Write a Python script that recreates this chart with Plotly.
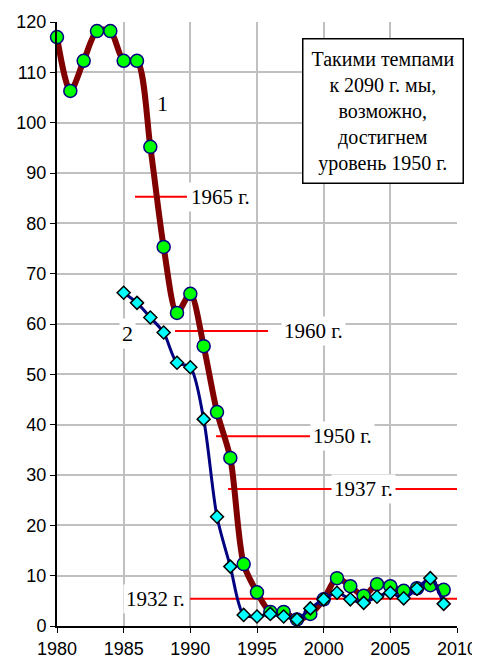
import plotly.graph_objects as go

# Series 1 (1980-2009)
years1 = list(range(1980, 2010))
vals1 = [117.0, 106.3, 112.3, 118.2, 118.2, 112.3, 112.3, 95.2, 75.3, 62.2,
         66.0, 55.6, 42.5, 33.4, 12.3, 6.7, 2.8, 2.8, 1.3, 2.4,
         5.3, 9.5, 7.9, 6.0, 8.3, 7.9, 7.0, 7.5, 8.1, 7.2]

# Series 2 (1985-2009)
years2 = list(range(1985, 2010))
vals2 = [66.2, 64.2, 61.3, 58.3, 52.3, 51.4, 41.1, 21.7, 11.8, 2.2,
         1.9, 2.4, 1.9, 1.3, 3.5, 5.3, 6.6, 5.3, 4.6, 5.8,
         6.6, 5.5, 7.4, 9.5, 4.4]

# Reference levels (red lines)
ref_labels = ["1965 г.", "1960 г.", "1950 г.", "1937 г.", "1932 г."]
ref_values = [85.3, 58.6, 37.7, 27.2, 5.4]
ref_x0 = [1985.85, 1988.85, 1991.93, 1992.83, 1989.98]
ref_x1 = [1989.75, 1995.83, 1998.98, 2010.0, 2010.0]
ref_label_x = [1989.8, 1996.8, 1999.0, 2002.95, 1989.8]
ref_label_anchor = ["left", "left", "left", "center", "right"]

x_ticks = [1980, 1985, 1990, 1995, 2000, 2005, 2010]
y_ticks = list(range(0, 121, 10))

serif = "Liberation Serif, Times New Roman, serif"
sans = "Liberation Sans, Arial, sans-serif"

fig = go.Figure()

for i in range(len(ref_values)):
    fig.add_trace(go.Scatter(
        x=[ref_x0[i], ref_x1[i]], y=[ref_values[i], ref_values[i]],
        mode="lines", line=dict(color="#ff0000", width=2),
        showlegend=False, hoverinfo="skip"))

fig.add_trace(go.Scatter(
    x=years1, y=vals1, mode="lines+markers",
    line=dict(color="#800000", width=6, shape="spline", smoothing=0.8),
    marker=dict(symbol="circle", size=13, color="#00ff00",
                line=dict(color="#000080", width=1.5)),
    cliponaxis=False, showlegend=False))

fig.add_trace(go.Scatter(
    x=years2, y=vals2, mode="lines+markers",
    line=dict(color="#000080", width=3, shape="spline", smoothing=0.8),
    marker=dict(symbol="diamond", size=10, color="#00ffff",
                line=dict(color="#000000", width=1.5)),
    cliponaxis=False, showlegend=False))

annotations = []
for i in range(len(ref_values)):
    annotations.append(dict(
        x=ref_label_x[i], y=ref_values[i], xref="x", yref="y",
        text=ref_labels[i], showarrow=False, xanchor=ref_label_anchor[i],
        yanchor="middle", bgcolor="white", borderpad=2,
        font=dict(family=serif, size=21, color="black")))

annotations.append(dict(x=1987.9, y=103.9, xref="x", yref="y", text="1",
                        showarrow=False, bgcolor="white", borderpad=2,
                        font=dict(family=serif, size=22, color="black")))
annotations.append(dict(x=1985.3, y=58.2, xref="x", yref="y", text="2",
                        showarrow=False, bgcolor="white", borderpad=2,
                        font=dict(family=serif, size=22, color="black")))

annotations.append(dict(
    x=0.814, y=0.852, xref="paper", yref="paper",
    text="Такими темпами<br>к 2090 г. мы,<br>возможно,<br>достигнем<br>уровень 1950 г.",
    showarrow=False, align="center", xanchor="center", yanchor="middle",
    bgcolor="white", bordercolor="black", borderwidth=1.5, borderpad=8,
    font=dict(family=serif, size=20, color="black")))

# the page body adds an 8px margin, so the figure is sized to fit the window
fig.update_layout(
    width=472, height=651,
    margin=dict(l=49, r=23, t=14, b=33),
    paper_bgcolor="white", plot_bgcolor="white",
    annotations=annotations,
    xaxis=dict(range=[1980, 2010], tickvals=x_ticks, ticktext=[str(v) for v in x_ticks],
               showgrid=True, gridcolor="#c0c0c0", gridwidth=1.5, automargin=False,
               showline=True, linecolor="black", linewidth=2,
               ticks="outside", ticklen=5, tickcolor="black",
               tickfont=dict(family=sans, size=18, color="black"), zeroline=False),
    yaxis=dict(range=[0, 120], tickvals=y_ticks, ticktext=[str(v) for v in y_ticks],
               showgrid=True, gridcolor="#c0c0c0", gridwidth=1.5, automargin=False,
               showline=True, linecolor="black", linewidth=2,
               ticks="outside", ticklen=5, tickcolor="black",
               tickfont=dict(family=sans, size=18, color="black"), zeroline=False),
)

fig.write_html("out.html")
